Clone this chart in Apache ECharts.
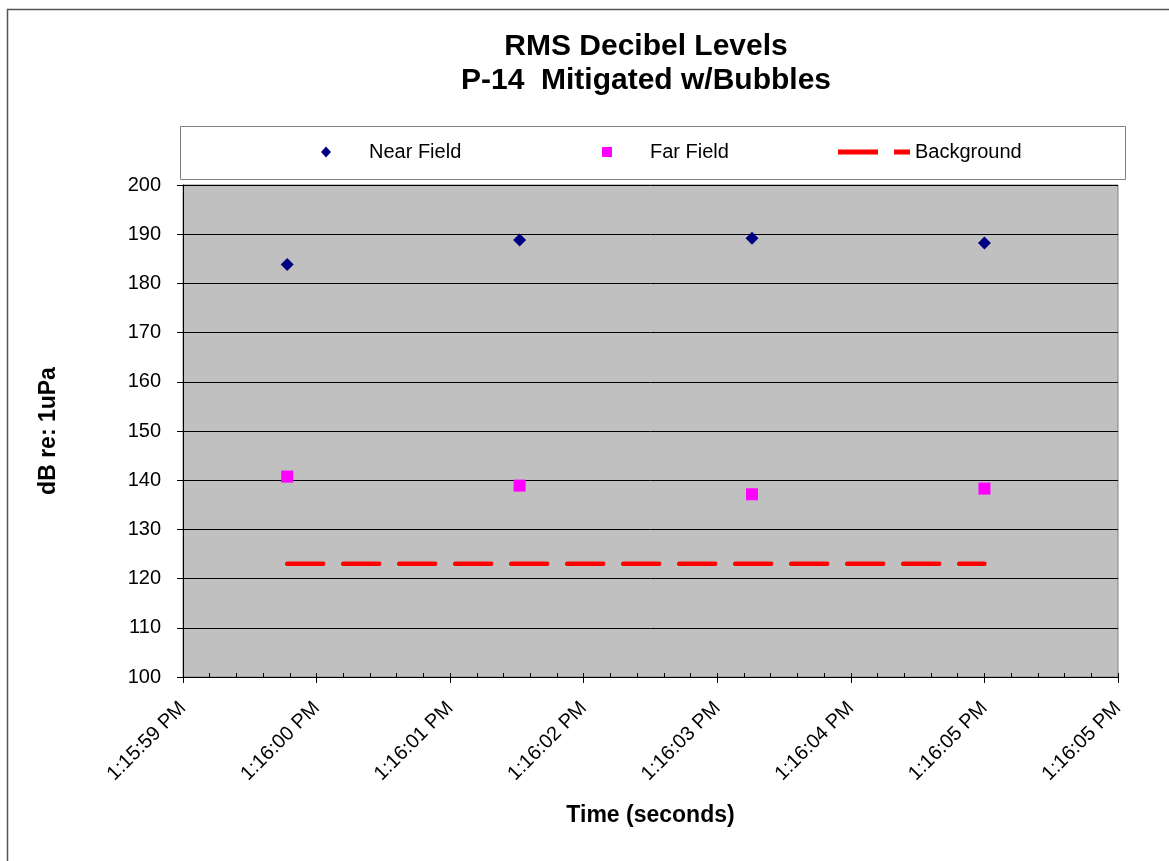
<!DOCTYPE html>
<html>
<head>
<meta charset="utf-8">
<script src="https://cdn.jsdelivr.net/npm/echarts@6/dist/echarts.min.js"></script>
<style>
  html, body { margin: 0; padding: 0; background: #fff; }
  #main { width: 1169px; height: 861px; }
</style>
</head>
<body>
<div id="main"></div>
<script>
// x positions in axis units (one unit = one major tick)
var xPos = [0.78, 2.52, 4.26, 6.0]
var nearField = [183.85, 188.84, 189.18, 188.22]
var farField = [140.73, 138.9, 137.14, 138.29]
var backgroundLevel = 123
var tickLabels = ['1:15:59 PM', '1:16:00 PM', '1:16:01 PM', '1:16:02 PM',
                  '1:16:03 PM', '1:16:04 PM', '1:16:05 PM', '1:16:05 PM']

var font = 'Liberation Sans, Arial, sans-serif'

function pairs(xs, ys) {
  let out = []
  for (let i = 0; i < xs.length; i++) {
    out.push([xs[i], ys[i]])
  }
  return out
}

let bgData = [[xPos[0], backgroundLevel], [xPos[xPos.length - 1], backgroundLevel]]

let chart = echarts.init(document.getElementById('main'))

let option = {
  animation: false,
  backgroundColor: '#fff',
  title: {
    text: 'RMS Decibel Levels\nP-14  Mitigated w/Bubbles',
    left: 641,
    top: 25,
    textAlign: 'center',
    textStyle: {
      fontFamily: font,
      fontSize: 30,
      fontWeight: 'bold',
      color: '#000',
      lineHeight: 34
    }
  },
  graphic: [
    {
      type: 'rect',
      z: -10,
      shape: { x: 7.5, y: 9.5, width: 1170, height: 860 },
      style: { fill: 'none', stroke: '#555', lineWidth: 1.5 }
    },
    {
      type: 'rect',
      z: -5,
      shape: { x: 180.5, y: 126.5, width: 945, height: 53 },
      style: { fill: '#fff', stroke: '#808080', lineWidth: 1 }
    }
  ],
  legend: [
    {
      data: [{ name: 'Near Field', icon: 'diamond' }],
      left: 316, top: 137,
      itemWidth: 10, itemHeight: 11,
      textStyle: { fontFamily: font, fontSize: 20, color: '#000', padding: [0, 0, 0, 33] }
    },
    {
      data: [{ name: 'Far Field', icon: 'rect' }],
      left: 597, top: 137,
      itemWidth: 10, itemHeight: 10,
      textStyle: { fontFamily: font, fontSize: 20, color: '#000', padding: [0, 0, 0, 33] }
    },
    {
      data: [{ name: 'Background', icon: 'path://M0,0 H40 V5 H0 Z M56,0 H72 V5 H56 Z' }],
      left: 833, top: 137,
      itemWidth: 72, itemHeight: 5,
      textStyle: { fontFamily: font, fontSize: 20, color: '#000' }
    }
  ],
  grid: {
    left: 183,
    right: 51,
    top: 185,
    bottom: 184,
    show: true,
    backgroundColor: '#C0C0C0',
    borderColor: '#808080',
    borderWidth: 1
  },
  xAxis: [
    {
      type: 'value',
      min: 0,
      max: 7,
      interval: 1,
      name: 'Time (seconds)',
      nameLocation: 'middle',
      nameGap: 127,
      nameTextStyle: { fontFamily: font, fontSize: 23, fontWeight: 'bold', color: '#000' },
      axisLine: { show: true, lineStyle: { color: '#000', width: 1 } },
      axisTick: { show: true, length: 6, lineStyle: { color: '#000' } },
      splitLine: { show: false },
      axisLabel: {
        rotate: 45,
        fontFamily: font,
        fontSize: 20,
        color: '#000',
        margin: 28,
        formatter: function (v) { return tickLabels[Math.round(v)] }
      }
    },
    {
      // inside ticks (major + minor) like the excel "cross" ticks
      type: 'value',
      position: 'bottom',
      min: 0,
      max: 7,
      interval: 1,
      axisLine: { show: false },
      axisTick: { show: true, inside: true, length: 4, lineStyle: { color: '#000' } },
      minorTick: { show: true, splitNumber: 5, length: 4, lineStyle: { color: '#000' } },
      axisLabel: { show: false },
      splitLine: { show: false }
    }
  ],
  yAxis: {
    type: 'value',
    min: 100,
    max: 200,
    interval: 10,
    name: 'dB re: 1uPa',
    nameLocation: 'middle',
    nameGap: 123,
    nameTextStyle: { fontFamily: font, fontSize: 23, fontWeight: 'bold', color: '#000' },
    axisLine: { show: true, lineStyle: { color: '#000', width: 1 } },
    axisTick: { show: true, length: 6, lineStyle: { color: '#000' } },
    splitLine: { show: true, lineStyle: { color: '#000', width: 1 } },
    axisLabel: { fontFamily: font, fontSize: 20, color: '#000', margin: 22 }
  },
  series: [
    {
      name: 'Near Field',
      type: 'scatter',
      symbol: 'diamond',
      symbolSize: [13, 13],
      itemStyle: { color: '#000080', opacity: 1 },
      data: pairs(xPos, nearField)
    },
    {
      name: 'Far Field',
      type: 'scatter',
      symbol: 'rect',
      symbolSize: 12,
      itemStyle: { color: '#FF00FF', opacity: 1 },
      data: pairs(xPos, farField)
    },
    {
      name: 'Background',
      type: 'line',
      symbol: 'none',
      itemStyle: { color: '#FF0000' },
      lineStyle: { color: '#FF0000', width: 4.5, type: [36, 20], cap: 'round' },
      data: bgData
    }
  ]
}

chart.setOption(option)
window.addEventListener('resize', () => {
  chart.resize()
})
</script>
</body>
</html>
